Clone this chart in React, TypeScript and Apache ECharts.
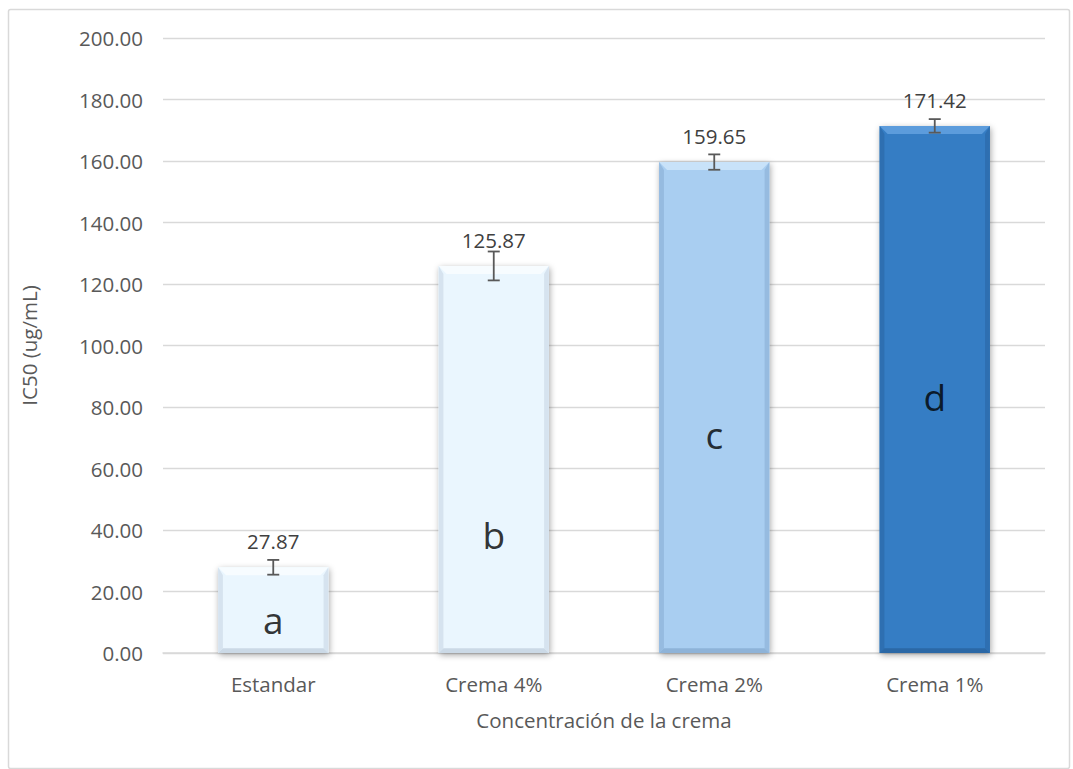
import React, { useEffect, useRef } from "react";
import * as echarts from "echarts";

const categories = ["Estandar", "Crema 4%", "Crema 2%", "Crema 1%"];
const values = [27.87, 125.87, 159.65, 171.42];
const errors = [2.4, 4.7, 2.5, 2.2];
const letters = ["a", "b", "c", "d"];
const letterPos = [11, 38.5, 71, 83.5];
const yTicks = [0, 20, 40, 60, 80, 100, 120, 140, 160, 180, 200];

const palettes = [
  { main: "#EAF6FE", top: "#F7FCFF", side: "#D6E3EF", bottom: "#CBD9E6" },
  { main: "#EAF6FE", top: "#F7FCFF", side: "#D6E3EF", bottom: "#CBD9E6" },
  { main: "#A9CEF1", top: "#C8E2F9", side: "#96BBE0", bottom: "#8EB3D8" },
  { main: "#367DC4", top: "#5C9CDC", side: "#2E6FB1", bottom: "#2B68A6" },
];

const FONT = "'Open Sans', 'Liberation Sans', sans-serif";
const TXT = "#595959";
const FS = 20.5;

export default function App() {
  const ref = useRef<HTMLDivElement>(null);
  useEffect(() => {
    if (!ref.current) return;
    const chart = echarts.init(ref.current, undefined, { renderer: "svg" });
    const barData = values.map((v, i) => [i, v, errors[i], i]);
    chart.setOption({
      animation: false,
      backgroundColor: "#ffffff",
      textStyle: { fontFamily: FONT },
      graphic: [
        {
          type: "rect",
          left: 6,
          top: 7,
          shape: { width: 1061, height: 759, r: 2 },
          style: { fill: "none", stroke: "#D9D9D9", lineWidth: 1.5 },
          silent: true,
          z: -1,
        },
      ],
      grid: { left: 163, right: 28, top: 38, bottom: 116 },
      xAxis: {
        type: "category",
        data: categories,
        boundaryGap: true,
        axisTick: { show: false },
        axisLine: { lineStyle: { color: "#D9D9D9", width: 1.5 } },
        axisLabel: { color: TXT, fontSize: FS, fontFamily: FONT, margin: 20 },
        name: "Concentración de la crema",
        nameLocation: "middle",
        nameGap: 56,
        nameTextStyle: { color: TXT, fontSize: FS, fontFamily: FONT },
      },
      yAxis: {
        type: "value",
        min: 0,
        max: 200,
        interval: 20,
        axisLine: { show: false },
        axisTick: { show: false },
        splitLine: { lineStyle: { color: "#D9D9D9", width: 1.3 } },
        axisLabel: {
          color: TXT,
          fontSize: FS,
          fontFamily: FONT,
          margin: 20,
          formatter: (v: number) => (yTicks.includes(v) ? v.toFixed(2) : ""),
        },
        name: "IC50 (ug/mL)",
        nameLocation: "middle",
        nameGap: 124,
        nameTextStyle: { color: TXT, fontSize: FS, fontFamily: FONT },
      },
      series: [
        {
          type: "custom",
          data: barData,
          z: 2,
          renderItem: (params: any, api: any) => {
            const idx = api.value(0);
            const val = api.value(1);
            const pi = api.value(3);
            const top = api.coord([idx, val]);
            const base = api.coord([idx, 0]);
            const cw = api.size([1, 0])[0];
            const w = cw * 0.5;
            const x0 = top[0] - w / 2;
            const x1 = top[0] + w / 2;
            const y0 = top[1];
            const y1 = base[1];
            const b = Math.min(8, (y1 - y0) / 3);
            const p = palettes[pi];
            return {
              type: "group",
              children: [
                {
                  type: "rect",
                  shape: { x: x0, y: y0, width: w, height: y1 - y0 },
                  style: {
                    fill: p.main,
                    shadowBlur: 6,
                    shadowColor: "rgba(0,0,0,0.35)",
                    shadowOffsetY: 2,
                    shadowOffsetX: 1,
                  },
                },
                {
                  type: "polygon",
                  shape: { points: [[x0, y0], [x1, y0], [x1 - b, y0 + b], [x0 + b, y0 + b]] },
                  style: { fill: p.top },
                },
                {
                  type: "polygon",
                  shape: { points: [[x0, y0], [x0 + b * 0.6, y0 + b], [x0 + b * 0.6, y1 - b * 0.6], [x0, y1]] },
                  style: { fill: p.side },
                },
                {
                  type: "polygon",
                  shape: { points: [[x1, y0], [x1 - b * 0.6, y0 + b], [x1 - b * 0.6, y1 - b * 0.6], [x1, y1]] },
                  style: { fill: p.side },
                },
                {
                  type: "polygon",
                  shape: { points: [[x0, y1], [x0 + b * 0.6, y1 - b * 0.6], [x1 - b * 0.6, y1 - b * 0.6], [x1, y1]] },
                  style: { fill: p.bottom },
                },
                {
                  type: "text",
                  style: {
                    text: val.toFixed(2),
                    x: top[0],
                    y: y0 - 26,
                    align: "center",
                    verticalAlign: "middle",
                    fill: "#404040",
                    font: `${FS}px ${FONT}`,
                  },
                  z2: 10,
                },
              ],
            };
          },
        },
        {
          type: "custom",
          data: barData,
          z: 3,
          renderItem: (params: any, api: any) => {
            const idx = api.value(0);
            const val = api.value(1);
            const err = api.value(2);
            const hi = api.coord([idx, val + err]);
            const lo = api.coord([idx, val - err]);
            const c = 6;
            const ls = { stroke: "#595959", lineWidth: 1.8 };
            return {
              type: "group",
              children: [
                { type: "line", shape: { x1: hi[0], y1: hi[1], x2: lo[0], y2: lo[1] }, style: ls },
                { type: "line", shape: { x1: hi[0] - c, y1: hi[1], x2: hi[0] + c, y2: hi[1] }, style: ls },
                { type: "line", shape: { x1: lo[0] - c, y1: lo[1], x2: lo[0] + c, y2: lo[1] }, style: ls },
              ],
            };
          },
        },
        {
          type: "scatter",
          data: letterPos.map((v, i) => [i, v]),
          symbolSize: 0,
          z: 4,
          label: {
            show: true,
            position: "inside",
            formatter: (p: any) => letters[p.dataIndex],
            fontSize: 37,
            fontFamily: FONT,
            color: "#000000",
          },
        },
      ],
    });
    return () => chart.dispose();
  }, []);
  return (
    <div
      ref={ref}
      style={{ position: "fixed", left: 0, top: 0, width: 1073, height: 769 }}
    />
  );
}
